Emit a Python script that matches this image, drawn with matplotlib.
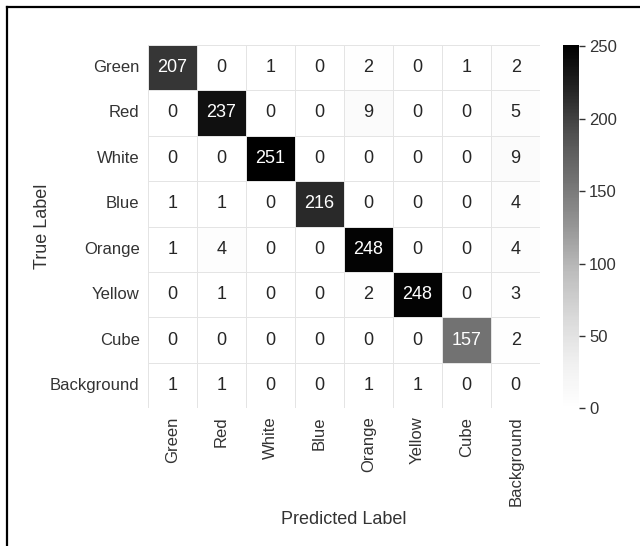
import numpy as np
import matplotlib
matplotlib.use("Agg")
import matplotlib.pyplot as plt
import seaborn as sns
from matplotlib.lines import Line2D

labels = ["Green", "Red", "White", "Blue", "Orange", "Yellow", "Cube", "Background"]

row_green = [207, 0, 1, 0, 2, 0, 1, 2]
row_red = [0, 237, 0, 0, 9, 0, 0, 5]
row_white = [0, 0, 251, 0, 0, 0, 0, 9]
row_blue = [1, 1, 0, 216, 0, 0, 0, 4]
row_orange = [1, 4, 0, 0, 248, 0, 0, 4]
row_yellow = [0, 1, 0, 0, 2, 248, 0, 3]
row_cube = [0, 0, 0, 0, 0, 0, 157, 2]
row_background = [1, 1, 0, 0, 1, 1, 0, 0]

cm = np.array([row_green, row_red, row_white, row_blue,
               row_orange, row_yellow, row_cube, row_background])

plt.rcParams['font.family'] = ['Liberation Sans', 'DejaVu Sans']

fig = plt.figure(figsize=(6.4, 5.46), dpi=100)
ax = fig.add_axes([0.231, 0.252, 0.613, 0.666])
cax = fig.add_axes([0.880, 0.252, 0.024, 0.666])

sns.heatmap(cm, annot=True, fmt="d", cmap="Greys", ax=ax, cbar_ax=cax,
            linewidths=0.5, linecolor="#e4e4e4",
            xticklabels=labels, yticklabels=labels,
            annot_kws={"size": 13})

ax.tick_params(axis="both", length=0, labelsize=12, colors="#333333", pad=6)
plt.setp(ax.get_xticklabels(), rotation=90)
plt.setp(ax.get_yticklabels(), rotation=0)
ax.set_xlabel("Predicted Label", fontsize=13, color="#333333", labelpad=3)
ax.set_ylabel("True Label", fontsize=13, color="#333333", labelpad=-1)

cax.set_yticks([0, 50, 100, 150, 200, 250])
cax.tick_params(labelsize=12, colors="#333333", length=4, width=1)
for sp in cax.spines.values():
    sp.set_visible(False)

# frame lines of the screenshot
fig.add_artist(Line2D([0.011, 0.011], [0.0, 0.987], color="black", lw=1.6,
                      transform=fig.transFigure))
fig.add_artist(Line2D([0.011, 1.0], [0.987, 0.987], color="black", lw=1.6,
                      transform=fig.transFigure))

fig.savefig("out.png", dpi=100)
